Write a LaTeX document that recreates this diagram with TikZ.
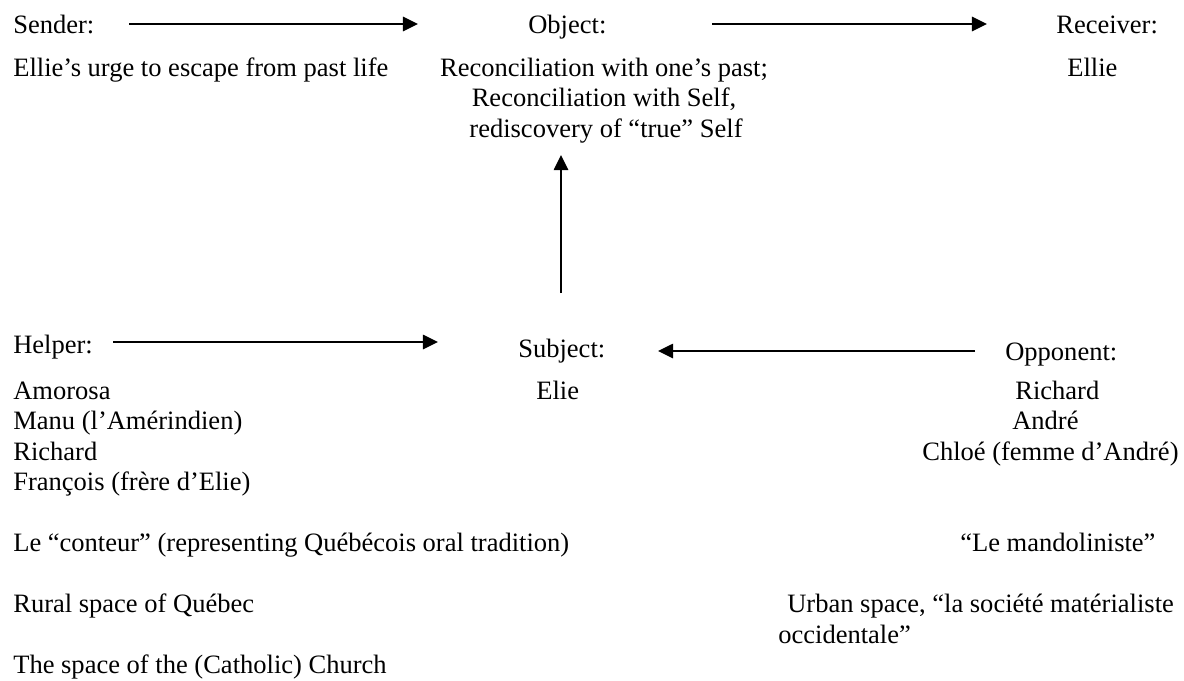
\documentclass[tikz,border=0pt]{standalone}
\usepackage{fontspec}
\setmainfont{Liberation Serif}
\usetikzlibrary{arrows.meta}
\begin{document}
\begin{tikzpicture}[x=0.6275pt,y=-0.6275pt,
  txt/.style={inner sep=0pt,anchor=base west,font=\fontsize{16.64}{19.1}\selectfont},
  ctxt/.style={txt,anchor=base},
  arr/.style={line width=1.25pt,-{Triangle[length=9.5pt,width=9pt]}}]
\useasboundingbox (0,0) rectangle (1184,680);

% top row: sender, object, receiver
\node[txt] (sender) at (13,33) {Sender:};
\node[txt] (object) at (528,33) {Object:};
\node[txt] (receiver) at (1056,33) {Receiver:};
\node[txt] (senderdesc) at (13,76) {Ellie’s urge to escape from past life};
\node[ctxt] (obj1) at (604,76) {Reconciliation with one’s past;};
\node[ctxt] (obj2) at (604,106.5) {Reconciliation with Self,};
\node[ctxt] (obj3) at (606,137) {rediscovery of “true” Self};
\node[txt] (receiverdesc) at (1067,76) {Ellie};

% bottom row: helper, subject, opponent
\node[txt] (helper) at (13,353) {Helper:};
\node[txt] (subject) at (518,357) {Subject:};
\node[txt] (opponent) at (1005,360) {Opponent:};

% helpers and spaces on the left
\node[txt] (h1) at (13,399) {Amorosa};
\node[txt] (h2) at (13,429.5) {Manu (l’Amérindien)};
\node[txt] (h3) at (13,460) {Richard};
\node[txt] (h4) at (13,490.5) {François (frère d’Elie)};
\node[txt] (h5) at (13,551.5) {Le “conteur” (representing Québécois oral tradition)};
\node[txt] (h6) at (13,612.5) {Rural space of Québec};
\node[txt] (h7) at (13,673.5) {The space of the (Catholic) Church};

\node[txt] (s1) at (536,399) {Elie};

% opponents and spaces on the right
\node[txt] (o1) at (1015,399) {Richard};
\node[txt] (o2) at (1012,429.5) {André};
\node[txt] (o3) at (922,460) {Chloé (femme d’André)};
\node[txt] (o4) at (960,551.5) {“Le mandoliniste”};
\node[txt] (o5) at (787,612.5) {Urban space, “la société matérialiste};
\node[txt] (o6) at (778,643) {occidentale”};

% connector end points
\coordinate (a1s) at (129,24);  \coordinate (a1e) at (418,24);
\coordinate (a2s) at (712,24);  \coordinate (a2e) at (987,24);
\coordinate (a3s) at (561,293); \coordinate (a3e) at (561,155);
\coordinate (a4s) at (113,342); \coordinate (a4e) at (438,342);
\coordinate (a5s) at (975,351); \coordinate (a5e) at (658,351);

\draw[arr] (a1s) -- (a1e);
\draw[arr] (a2s) -- (a2e);
\draw[arr] (a3s) -- (a3e);
\draw[arr] (a4s) -- (a4e);
\draw[arr] (a5s) -- (a5e);
\end{tikzpicture}
\end{document}
